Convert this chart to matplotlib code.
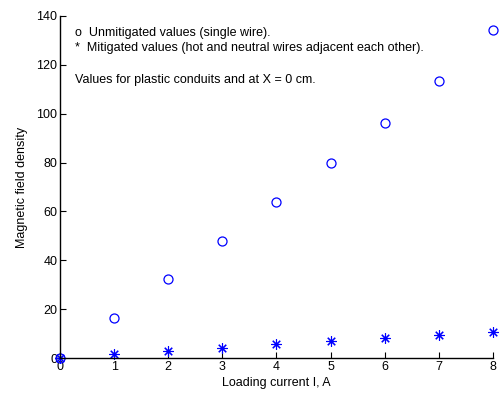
import numpy as np
import matplotlib.pyplot as plt

plt.rcParams['font.family'] = ['Liberation Sans', 'DejaVu Sans']

current = np.array([0, 1, 2, 3, 4, 5, 6, 7, 8])
unmitigated = np.array([0, 16.3, 32.2, 48.1, 64.0, 80.0, 96.0, 113.2, 134.3])
mitigated = np.array([0, 1.5, 2.9, 4.3, 5.7, 7.0, 8.2, 9.5, 10.7])

xticks = [0, 1, 2, 3, 4, 5, 6, 7, 8]
yticks = [0, 20, 40, 60, 80, 100, 120, 140]

fig = plt.figure(figsize=(5.02, 3.97), dpi=100)
ax = fig.add_axes([0.1195, 0.0982, 0.8625, 0.8615])

ax.plot(current, unmitigated, linestyle='none', marker='o', markersize=6.5,
        markerfacecolor='none', markeredgecolor='#0000ff', markeredgewidth=0.9)
ax.plot(current, mitigated, linestyle='none', marker=(8, 2, 0), markersize=7.5,
        color='#0000ff', markeredgewidth=0.8)

ax.set_xlim(0, 8)
ax.set_ylim(0, 140)
ax.set_xticks(xticks)
ax.set_yticks(yticks)
ax.spines['top'].set_visible(False)
ax.spines['right'].set_visible(False)
ax.tick_params(direction='in', length=4, labelsize=9, pad=2)
for s in ax.spines.values():
    s.set_linewidth(1)
for p in ax.lines:
    p.set_clip_on(False)

ax.set_xlabel('Loading current I, A', fontsize=9, labelpad=3)
ax.set_ylabel('Magnetic field density', fontsize=9, labelpad=6)

ax.text(0.28, 133, 'o  Unmitigated values (single wire).', fontsize=9, va='center')
ax.text(0.28, 127, '*  Mitigated values (hot and neutral wires adjacent each other).',
        fontsize=9, va='center')
ax.text(0.28, 114, 'Values for plastic conduits and at X = 0 cm.', fontsize=9, va='center')

fig.savefig('out.png', dpi=100)
